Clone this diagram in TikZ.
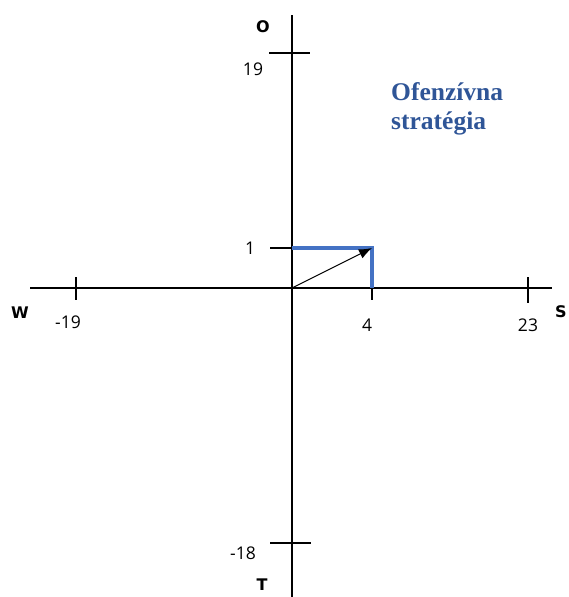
\documentclass[tikz,border=0pt]{standalone}
\usepackage{fontspec}
\usetikzlibrary{arrows.meta}
\setmainfont{Open Sans}
\newfontfamily\serifb{Liberation Serif}
\newfontfamily\dirfont{DejaVu Sans}
\definecolor{lineblue}{HTML}{4472C4}
\definecolor{textblue}{HTML}{2F5597}
\begin{document}
\begin{tikzpicture}[x=1pt,y=-1pt,
  axis/.style={draw=black,line width=1.2pt},
  tick/.style={draw=black,line width=1.2pt},
  blueline/.style={draw=lineblue,line width=3.5pt},
  lbl/.style={font=\fontsize{17.5}{20}\selectfont,inner sep=0pt},
  dir/.style={font=\dirfont\fontsize{16}{19}\selectfont\bfseries,inner sep=0pt},
  strat/.style={font=\serifb\fontsize{25.5}{29}\selectfont\bfseries,text=textblue,align=left,inner sep=0pt,anchor=north west}]
\useasboundingbox (0,0) rectangle (568,597);
% axes
\coordinate (vtop) at (292,15);
\coordinate (vbot) at (292,597);
\coordinate (hl) at (30,288);
\coordinate (hr) at (552,288);
\coordinate (o) at (292,288);
\draw[axis] (vtop) -- (vbot);
\draw[axis] (hl) -- (hr);
% ticks
\draw[tick] (269,53) -- (310,53);
\draw[tick] (270,543) -- (311,543);
\draw[tick] (76,277) -- (76,300);
\draw[tick] (528,277) -- (528,303);
\draw[tick] (270,248) -- (292,248);
\draw[tick] (372,288) -- (372,300);
% blue rectangle sides
\coordinate (p) at (372,248);
\coordinate (py) at (292,248);
\coordinate (px) at (372,288);
\draw[blueline] (py) -- (p) -- (px);
% vector
\draw[line width=1.1pt,-{Latex[length=13pt,width=10pt]}] (o) -- (p);
% labels
\node[dir] (O) at (263,27) {O};
\node[dir] (T) at (262,585) {T};
\node[dir] (W) at (20,313) {W};
\node[dir] (S) at (561,312) {S};
\node[lbl] (n19) at (253,69) {19};
\node[lbl] (nm18) at (243,553) {-18};
\node[lbl] (nm19) at (68,322) {-19};
\node[lbl] (n23) at (528,325) {23};
\node[lbl] (n4) at (367,325) {4};
\node[lbl] (n1) at (250,248) {1};
\node[strat] (st) at (391,82) {Ofenzívna\\stratégia};
\end{tikzpicture}
\end{document}
